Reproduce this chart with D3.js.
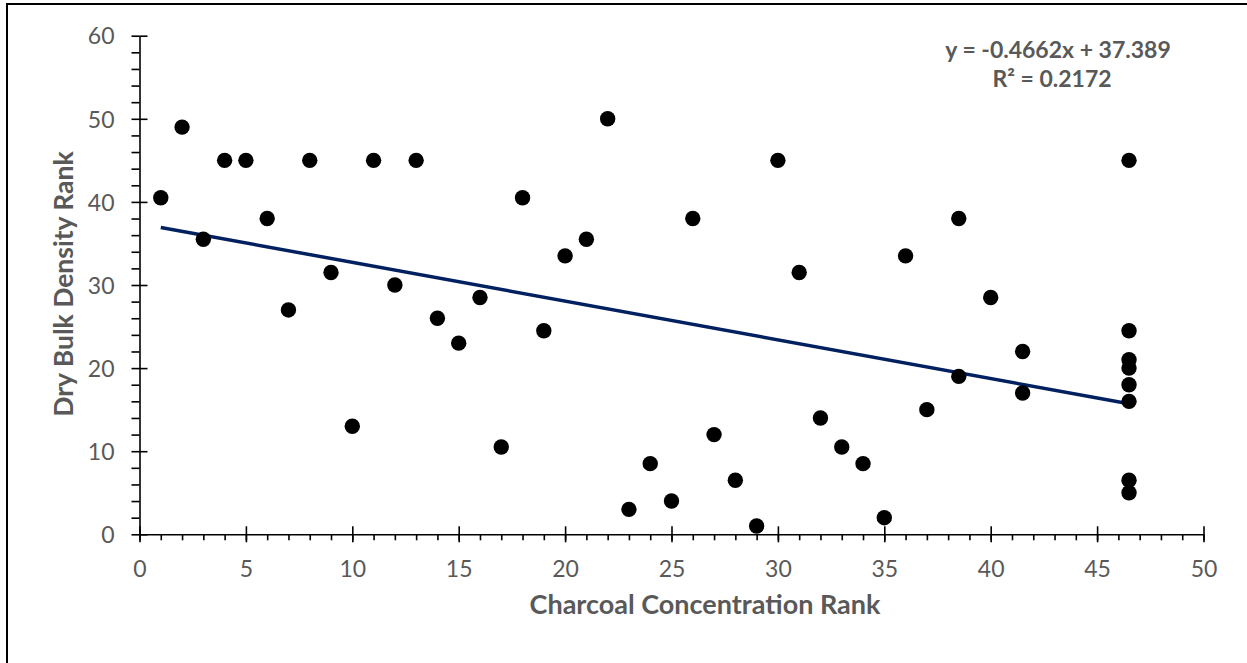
<!DOCTYPE html>
<html>
<head>
<meta charset="utf-8">
<script src="https://cdn.jsdelivr.net/npm/d3@7"></script>
<style>
  body { margin: 0; background: #fff; }
  svg { display: block; font-family: Lato, "Open Sans", sans-serif; }
</style>
</head>
<body>
<div class="chart"></div>
<script>
// charcoal concentration rank (x) vs dry bulk density rank (y)
var charcoalRank = [1, 2, 3, 4, 5, 6, 7, 8, 9, 10,
                    11, 12, 13, 14, 15, 16, 17, 18, 19, 20,
                    21, 22, 23, 24, 25, 26, 27, 28, 29, 30,
                    31, 32, 33, 34, 35, 36, 37, 38.5, 38.5, 40,
                    41.5, 41.5, 46.5, 46.5, 46.5, 46.5, 46.5, 46.5, 46.5, 46.5];
var densityRank = [40.5, 49, 35.5, 45, 45, 38, 27, 45, 31.5, 13,
                   45, 30, 45, 26, 23, 28.5, 10.5, 40.5, 24.5, 33.5,
                   35.5, 50, 3, 8.5, 4, 38, 12, 6.5, 1, 45,
                   31.5, 14, 10.5, 8.5, 2, 33.5, 15, 38, 19, 28.5,
                   22, 17, 45, 24.5, 21, 20, 18, 16, 6.5, 5];
var xMajorTicks = [0, 5, 10, 15, 20, 25, 30, 35, 40, 45, 50];
var yMajorTicks = [0, 10, 20, 30, 40, 50, 60];
var trendSlope = -0.4662;
var trendIntercept = 37.389;
var equationLines = ["y = -0.4662x + 37.389", "R² = 0.2172"];

var w = 1247;
var h = 663;
var textColor = "#595959";
var lineColor = "#002060";

var svg = d3.select(".chart")
            .append("svg")
            .attr("width", w)
            .attr("height", h);

// outer chart frame (right and bottom edges fall outside the picture)
svg.append("rect")
   .attr("x", 7)
   .attr("y", 4)
   .attr("width", w + 20)
   .attr("height", h + 20)
   .attr("fill", "none")
   .attr("stroke", "#000")
   .attr("stroke-width", 2);

var xScale = d3.scaleLinear().domain([0, 50]).range([139.5, 1203.5]);
var yScale = d3.scaleLinear().domain([0, 60]).range([534.3, 35.7]);
var x0 = xScale(0);
var y0 = yScale(0);

// minor ticks
svg.append("g")
   .attr("transform", "translate(0," + y0 + ")")
   .call(d3.axisBottom(xScale).tickValues(d3.range(0, 51, 1)).tickSize(6).tickSizeOuter(0).tickFormat(""))
   .call(g => g.select(".domain").remove());
svg.append("g")
   .attr("transform", "translate(" + x0 + ",0)")
   .call(d3.axisLeft(yScale).tickValues(d3.range(0, 61, 2)).tickSize(8).tickSizeOuter(0).tickFormat(""))
   .call(g => g.select(".domain").remove());

// major axes
var xAxis = svg.append("g")
   .attr("transform", "translate(0," + y0 + ")")
   .call(d3.axisBottom(xScale).tickValues(xMajorTicks).tickSize(8).tickSizeOuter(0))
   .attr("font-family", null)
   .attr("font-size", null);
xAxis.selectAll(".tick line").attr("y1", -8);
xAxis.selectAll(".tick text")
     .attr("y", 43).attr("dy", null)
     .attr("fill", textColor)
     .style("font-size", "23px");

var yAxis = svg.append("g")
   .attr("transform", "translate(" + x0 + ",0)")
   .call(d3.axisLeft(yScale).tickValues(yMajorTicks).tickSize(8).tickSizeOuter(0))
   .attr("font-family", null)
   .attr("font-size", null);
yAxis.selectAll(".tick line").attr("x2", 8);
yAxis.selectAll(".tick text")
     .attr("x", -25).attr("dy", "0.36em")
     .attr("fill", textColor)
     .style("font-size", "23px");

svg.selectAll(".domain, .tick line")
   .attr("stroke", "#000")
   .attr("stroke-width", 1.6);

// trend line over the data range
var trendX = d3.extent(charcoalRank);
svg.append("line")
   .attr("x1", xScale(trendX[0]))
   .attr("y1", yScale(trendSlope * trendX[0] + trendIntercept))
   .attr("x2", xScale(trendX[1]))
   .attr("y2", yScale(trendSlope * trendX[1] + trendIntercept))
   .attr("stroke", lineColor)
   .attr("stroke-width", 3.5);

// points
svg.selectAll("circle")
   .data(charcoalRank)
   .enter()
   .append("circle")
   .attr("cx", function(d){ return xScale(d); })
   .attr("cy", function(d, i){ return yScale(densityRank[i]); })
   .attr("r", 7.7)
   .attr("fill", "#000");

// equation label
svg.append("text")
   .attr("x", 1058).attr("y", 58)
   .attr("text-anchor", "middle")
   .attr("font-weight", 700)
   .attr("fill", textColor)
   .style("font-size", "23px")
   .text(equationLines[0]);
svg.append("text")
   .attr("x", 1052).attr("y", 87)
   .attr("text-anchor", "middle")
   .attr("font-weight", 700)
   .attr("fill", textColor)
   .style("font-size", "23px")
   .text(equationLines[1]);

// axis titles
svg.append("text")
   .attr("x", 705).attr("y", 614)
   .attr("text-anchor", "middle")
   .attr("font-weight", 700)
   .attr("fill", textColor)
   .style("font-size", "27px")
   .text("Charcoal Concentration Rank");

svg.append("text")
   .attr("transform", "translate(73,284) rotate(-90)")
   .attr("text-anchor", "middle")
   .attr("font-weight", 700)
   .attr("fill", textColor)
   .style("font-size", "26.5px")
   .text("Dry Bulk Density Rank");
</script>
</body>
</html>
